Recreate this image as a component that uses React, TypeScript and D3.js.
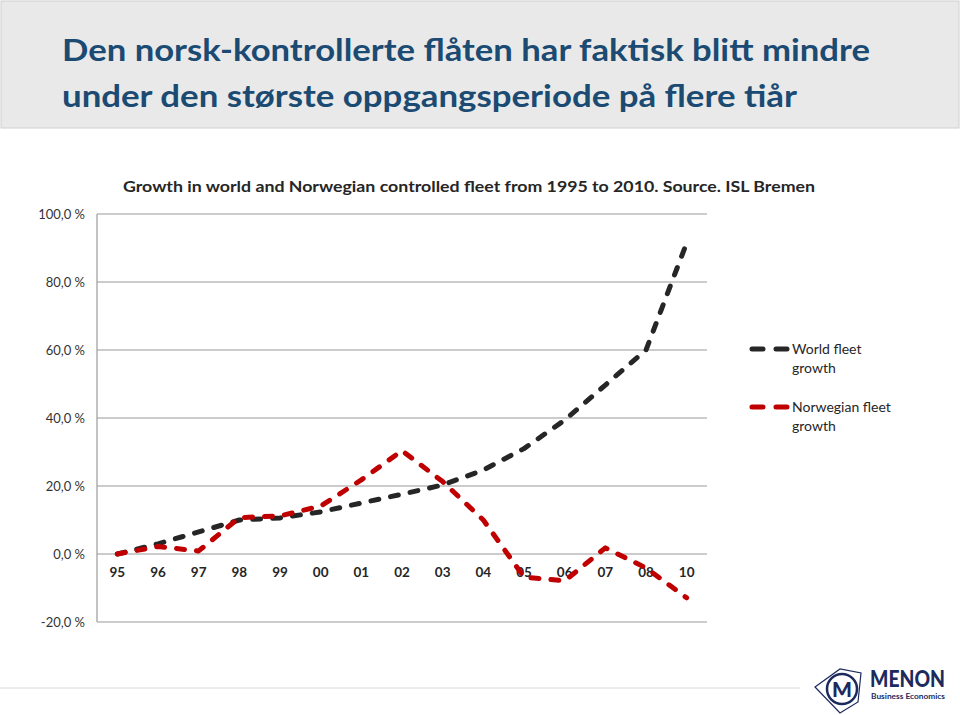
import React from "react";
import * as d3 from "d3";

const categories = ["95", "96", "97", "98", "99", "00", "01", "02", "03", "04", "05", "06", "07", "08", "10"];
const worldGrowth = [0, 3, 6.5, 10, 10.6, 12.4, 15, 17.6, 20.3, 24.7, 31, 39.4, 49.7, 60, 91.5];
const norwegianGrowth = [0, 2.2, 0.9, 10.7, 11.2, 14.1, 21.8, 30.4, 21.3, 10, -6.8, -7.9, 1.8, -4.1, -12.9];
const yTicks = [-20, 0, 20, 40, 60, 80, 100];

const titleLines = [
  "Den norsk-kontrollerte flåten har faktisk blitt mindre",
  "under den største oppgangsperiode på flere tiår",
];
const chartTitle = "Growth in world and Norwegian controlled fleet from 1995 to 2010. Source. ISL Bremen";
const seriesNames = [["World fleet", "growth"], ["Norwegian fleet", "growth"]];

const FONT = "Lato, 'Open Sans', sans-serif";

export default function App() {
  const x = d3.scaleBand<string>().domain(categories).range([97, 707]).padding(0);
  const y = d3.scaleLinear().domain([-20, 100]).range([622, 214]);
  const cx = (c: string) => (x(c) as number) + x.bandwidth() / 2;
  const line = d3
    .line<number>()
    .x((_, i) => cx(categories[i]))
    .y((d) => y(d));

  const fmt = (v: number) => v.toFixed(1).replace(".", ",") + " %";

  const series = [
    { values: worldGrowth, color: "#262626", name: seriesNames[0] },
    { values: norwegianGrowth, color: "#c00000", name: seriesNames[1] },
  ];

  return (
    <svg
      width={960}
      height={715}
      style={{ position: "absolute", left: 0, top: 0, background: "#fff" }}
      fontFamily={FONT}
    >
      {/* header */}
      <rect x={1} y={1} width={958} height={127} fill="#e9e9e9" stroke="#d0d0d0" strokeWidth={1} />
      <text x={62} y={61} fontSize={31} fontWeight={700} fill="#1b4a72" textLength={808} lengthAdjust="spacingAndGlyphs">
        {titleLines[0]}
      </text>
      <text x={62} y={107} fontSize={31} fontWeight={700} fill="#1b4a72" textLength={735} lengthAdjust="spacingAndGlyphs">
        {titleLines[1]}
      </text>

      {/* chart title */}
      <text x={123} y={192} fontSize={15.5} fontWeight={700} fill="#262626" textLength={692} lengthAdjust="spacingAndGlyphs">
        {chartTitle}
      </text>

      {/* gridlines */}
      {yTicks.map((t) => (
        <line key={t} x1={97} x2={707} y1={y(t)} y2={y(t)} stroke="#9a9a9a" strokeWidth={1.2} />
      ))}
      <line x1={97} x2={97} y1={y(100)} y2={y(-20)} stroke="#9a9a9a" strokeWidth={1.2} />

      {/* y labels */}
      {yTicks.map((t) => (
        <text key={t} x={85} y={y(t)} dy="0.35em" textAnchor="end" fontSize={13} fill="#333">
          {fmt(t)}
        </text>
      ))}

      {/* x labels */}
      {categories.map((c) => (
        <text key={c} x={cx(c)} y={577} textAnchor="middle" fontSize={13.5} fontWeight={700} fill="#262626">
          {c}
        </text>
      ))}

      {/* series */}
      {series.map((s, i) => (
        <path
          key={i}
          d={line(s.values) as string}
          fill="none"
          stroke={s.color}
          strokeWidth={5}
          strokeDasharray="8,12"
          strokeLinecap="round"
          strokeLinejoin="round"
        />
      ))}

      {/* legend */}
      {series.map((s, i) => {
        const ly = 349 + i * 58;
        return (
          <g key={i}>
            <line x1={752} x2={792} y1={ly} y2={ly} stroke={s.color} strokeWidth={5} strokeDasharray="11,13" strokeLinecap="round" />
            <text x={792} y={ly} dy="0.35em" fontSize={14} fill="#262626">
              {s.name[0]}
            </text>
            <text x={792} y={ly + 19} dy="0.35em" fontSize={14} fill="#262626">
              {s.name[1]}
            </text>
          </g>
        );
      })}

      {/* footer line */}
      <line x1={0} x2={800} y1={688} y2={688} stroke="#d8d8d8" strokeWidth={1} />

      {/* logo */}
      <g>
        <path d="M815,687 L840,669 L861,673 L858,702 L840,713 Z" fill="none" stroke="#1d2a5e" strokeWidth={1.2} />
        <circle cx={842} cy={689} r={15} fill="none" stroke="#1d2a5e" strokeWidth={2.5} />
        <text x={842} y={697} textAnchor="middle" fontSize={21} fontWeight={900} fill="#1d2a5e">M</text>
        <text x={870} y={687} fontSize={22} fontWeight={900} fill="#1d2a5e" textLength={75} lengthAdjust="spacingAndGlyphs">MENON</text>
        <text x={871} y={699} fontSize={7.5} fontWeight={700} fill="#1d2a5e" textLength={74} lengthAdjust="spacingAndGlyphs">Business Economics</text>
      </g>
    </svg>
  );
}
